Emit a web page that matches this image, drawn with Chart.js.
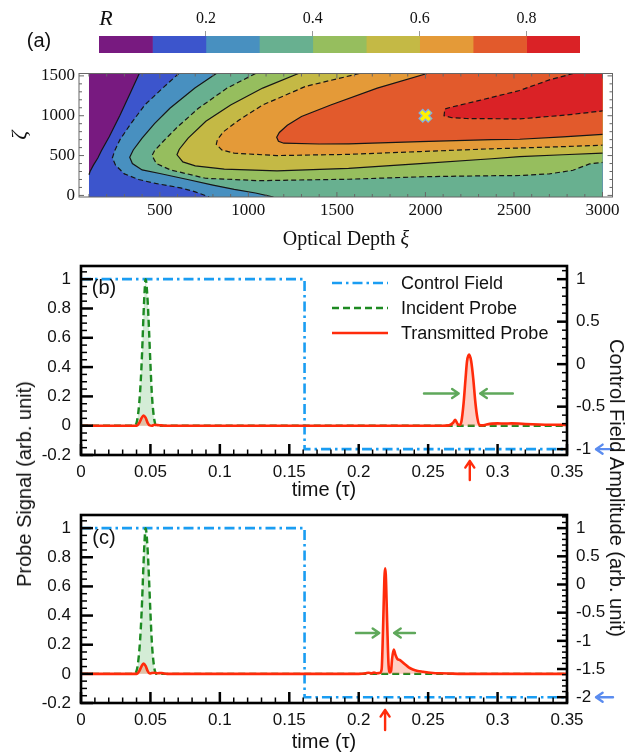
<!DOCTYPE html>
<html>
<head>
<meta charset="utf-8">
<title>Pulse transmission vs optical depth</title>
<script src="https://cdn.jsdelivr.net/npm/chart.js@4.4.1/dist/chart.umd.min.js"></script>
<style>
  html, body { margin: 0; padding: 0; background: #fff; }
  #page { position: relative; width: 626px; height: 755px; overflow: hidden; font-family: 'Liberation Sans', Arial, sans-serif; color: #111; }
  #page canvas { position: absolute; left: 0; }
  .txt { position: absolute; white-space: nowrap; line-height: 1; transform: translate(-50%, -50%); }
  .serif { font-family: 'Liberation Serif', 'Times New Roman', serif; }
</style>
</head>
<body>
<div id="page">
  <canvas id="barR" width="626" height="56" style="top:0px"></canvas>
  <canvas id="mapA" width="626" height="190" style="top:60px"></canvas>
  <canvas id="plotB" width="626" height="254" style="top:251px"></canvas>
  <canvas id="plotC" width="626" height="255" style="top:500px"></canvas>

  <div class="txt" style="left:39px; top:40px; font-size:20px;">(a)</div>
  <div class="txt serif" style="left:106px; top:18px; font-size:22px; font-style:italic;">R</div>
  <div class="txt serif" style="left:346px; top:238px; font-size:20px;">Optical Depth <i>ξ</i></div>
  <div class="txt" style="left:104px; top:287px; font-size:20px;">(b)</div>
  <div class="txt" style="left:104px; top:537px; font-size:20px;">(c)</div>
  <div class="txt" style="left:24px; top:484px; font-size:20px; transform: translate(-50%,-50%) rotate(-90deg);">Probe Signal (arb. unit)</div>
  <div class="txt" style="left:617px; top:488px; font-size:20px; transform: translate(-50%,-50%) rotate(90deg);">Control Field Amplitude (arb. unit)</div>
</div>

<script>
// ---------- panel (a): colour bar ----------
const rBandEdges = [0, 0.1, 0.2, 0.3, 0.4, 0.5, 0.6, 0.7, 0.8, 0.9];
const rBandColors = ['#781a80', '#3c55cc', '#4890c0', '#68b090', '#96be5e', '#c4b945', '#e49a38', '#e25a2c', '#da2226'];
const rBarTicks = [0.2, 0.4, 0.6, 0.8];

// ---------- panel (a): contour lines of R (xi, zeta) ----------
const xiRange = [100, 3000];
const zetaRange = [-20, 1530];
const xiTicks = [500, 1000, 1500, 2000, 2500, 3000];
const zetaTicks = [0, 500, 1000, 1500];

const xiL1 = [384, 330, 275, 215, 170, 150, 125, 106, 100];
const zetaL1 = [1530, 1270, 1005, 740, 560, 470, 380, 300, 260];
const xiL2 = [607, 516, 415, 330, 275, 245, 232, 250, 300, 380, 476, 617, 700, 779];
const zetaL2 = [1530, 1347, 1135, 880, 700, 560, 470, 380, 270, 200, 150, 95, 45, -20];
const xiL3 = [819, 698, 557, 470, 400, 350, 330, 345, 400, 500, 657, 800, 920, 1040, 1142];
const zetaL3 = [1530, 1347, 1093, 900, 720, 570, 480, 400, 320, 275, 200, 130, 76, 30, -20];
const xiL4 = [1041, 880, 718, 600, 520, 470, 456, 480, 560, 758, 1061, 1566, 2000, 2300, 2532, 2700, 2833, 2927, 3000];
const zetaL4 = [1530, 1347, 1093, 860, 680, 560, 500, 400, 320, 215, 185, 203, 235, 245, 250, 270, 316, 395, 414];
const xiL5 = [1283, 1081, 900, 760, 660, 610, 597, 630, 700, 864, 1162, 1566, 1970, 2374, 2532, 2777, 3000];
const zetaL5 = [1530, 1347, 1135, 930, 720, 580, 510, 420, 370, 330, 309, 339, 400, 460, 487, 510, 530];
const xiL6 = [1627, 1324, 1081, 950, 860, 825, 819, 850, 920, 1162, 1566, 1970, 2374, 2532, 2777, 3000];
const zetaL6 = [1530, 1369, 1135, 950, 800, 700, 640, 570, 530, 500, 515, 550, 585, 595, 612, 630];
const xiL7 = [2010, 1728, 1465, 1300, 1220, 1175, 1160, 1170, 1200, 1400, 1566, 1970, 2374, 2532, 2777, 3000];
const zetaL7 = [1530, 1347, 1135, 990, 880, 790, 730, 680, 655, 645, 648, 675, 700, 705, 735, 765];
const xiL8 = [2835, 2700, 2532, 2300, 2150, 2110, 2105, 2150, 2232, 2532, 2800, 3000];
const zetaL8 = [1530, 1450, 1317, 1190, 1110, 1085, 1000, 975, 965, 960, 1010, 1060];

const contourXi = [xiL1, xiL2, xiL3, xiL4, xiL5, xiL6, xiL7, xiL8];
const contourZeta = [zetaL1, zetaL2, zetaL3, zetaL4, zetaL5, zetaL6, zetaL7, zetaL8];
const optimumXi = [2000];
const optimumZeta = [1000];

// ---------- panels (b) and (c) ----------
const timeTicks = [0, 0.05, 0.1, 0.15, 0.2, 0.25, 0.3, 0.35];
const probeTicks = [-0.2, 0, 0.2, 0.4, 0.6, 0.8, 1];
const ctrlTicksB = [-1, -0.5, 0, 0.5, 1];
const ctrlTicksC = [-2, -1.5, -1, -0.5, 0, 0.5, 1];

const tControl = [0, 0.161, 0.161, 0.35];
const controlB = [1, 1, -1, -1];
const controlC = [1, 1, -2, -2];

const tIncident = [0, 0.038, 0.040, 0.041, 0.042, 0.043, 0.044, 0.045, 0.046, 0.0465, 0.047, 0.048, 0.049, 0.050, 0.051, 0.052, 0.053, 0.054, 0.056, 0.35];
const incidentProbe = [0, 0, 0.02, 0.07, 0.16, 0.30, 0.50, 0.75, 0.95, 1.0, 0.98, 0.85, 0.65, 0.42, 0.22, 0.10, 0.03, 0, 0, 0];

const tTransB = [0, 0.040, 0.042, 0.0435, 0.045, 0.0465, 0.048, 0.0495, 0.051, 0.053, 0.055, 0.058, 0.060, 0.26, 0.265, 0.268, 0.2695, 0.271, 0.2725, 0.274, 0.2755, 0.277, 0.278, 0.2795, 0.281, 0.2825, 0.284, 0.2855, 0.287, 0.289, 0.292, 0.296, 0.300, 0.305, 0.310, 0.315, 0.320, 0.330, 0.340, 0.350];
const transB = [0, 0, 0.02, 0.05, 0.07, 0.055, 0.02, 0.002, 0, 0.006, 0.004, 0.002, 0, 0, 0.002, 0.02, 0.04, 0.015, 0.005, 0.03, 0.15, 0.33, 0.44, 0.485, 0.44, 0.32, 0.16, 0.05, 0.005, 0.002, 0.008, 0.014, 0.016, 0.015, 0.016, 0.015, 0.012, 0.008, 0.006, 0.005];

const tTransC = [0, 0.040, 0.042, 0.0435, 0.045, 0.0465, 0.048, 0.0495, 0.051, 0.053, 0.055, 0.058, 0.060, 0.062, 0.20, 0.205, 0.207, 0.209, 0.211, 0.213, 0.215, 0.2165, 0.2175, 0.2185, 0.219, 0.2195, 0.2205, 0.2215, 0.2225, 0.2233, 0.224, 0.2252, 0.2265, 0.228, 0.2295, 0.231, 0.2335, 0.236, 0.239, 0.2425, 0.2465, 0.250, 0.2535, 0.258, 0.265, 0.275, 0.35];
const transC = [0, 0, 0.02, 0.05, 0.07, 0.055, 0.02, 0.002, 0.006, 0.008, 0.004, 0.006, 0.002, 0, 0, 0.004, 0.008, 0.003, 0.009, 0.004, 0.006, 0.03, 0.30, 0.66, 0.725, 0.68, 0.35, 0.06, 0.01, 0.02, 0.10, 0.166, 0.13, 0.10, 0.095, 0.085, 0.064, 0.045, 0.03, 0.02, 0.014, 0.009, 0.006, 0.004, 0.002, 0, 0];

// ---------- helpers ----------
const SERIF = "'Liberation Serif', 'Times New Roman', serif";
Chart.defaults.font.family = "'Liberation Sans', Arial, sans-serif";
Chart.defaults.color = '#111';
Chart.defaults.animation = false;
Chart.defaults.responsive = false;
Chart.defaults.events = [];
Chart.defaults.plugins.legend.display = false;
Chart.defaults.plugins.tooltip.enabled = false;

function toPoints(xs, ys) {
    return xs.map((x, i) => ({ x: x, y: ys[i] }));
}

function fixBox(w, h) {
    return function (s) {
        if (w !== null) s.width = w;
        if (h !== null) s.height = h;
        s.paddingLeft = 0; s.paddingRight = 0; s.paddingTop = 0; s.paddingBottom = 0;
    };
}

function useTicks(values) {
    return function (s) { s.ticks = values.map(v => ({ value: v })); };
}

function minorTicks(lo, hi, step, majors) {
    const out = [];
    const n = Math.round((hi - lo) / step);
    for (let k = 0; k <= n; k++) {
        const v = Math.round((lo + k * step) * 1e6) / 1e6;
        if (!majors.some(m => Math.abs(m - v) < step / 10)) out.push(v);
    }
    return out;
}

// frame round the plot area with inward tick marks
function framePlugin(cfg) {
    return {
        id: 'frameTicks',
        afterDatasetsDraw(chart) {
            const ctx = chart.ctx;
            const a = chart.chartArea;
            ctx.save();
            ctx.strokeStyle = cfg.color;
            cfg.marks.forEach(m => {
                const s = chart.scales[m.scale];
                [[m.major, m.majorLen, m.majorWidth], [m.minor, m.minorLen, m.minorWidth]].forEach(([vals, len, w]) => {
                    ctx.lineWidth = w;
                    vals.forEach(v => {
                        const p = s.getPixelForValue(v);
                        m.sides.forEach(side => {
                            ctx.beginPath();
                            if (side === 'bottom') { ctx.moveTo(p, a.bottom); ctx.lineTo(p, a.bottom - len); }
                            if (side === 'top') { ctx.moveTo(p, a.top); ctx.lineTo(p, a.top + len); }
                            if (side === 'left') { ctx.moveTo(a.left, p); ctx.lineTo(a.left + len, p); }
                            if (side === 'right') { ctx.moveTo(a.right, p); ctx.lineTo(a.right - len, p); }
                            ctx.stroke();
                        });
                    });
                });
            });
            ctx.lineWidth = cfg.frameWidth;
            ctx.strokeRect(a.left, a.top, a.right - a.left, a.bottom - a.top);
            ctx.restore();
        }
    };
}

function arrowsPlugin(items) {
    return {
        id: 'arrows',
        afterDraw(chart) {
            const ctx = chart.ctx;
            const a = chart.chartArea;
            const pos = (spec, base, k) => spec[0] ? chart.scales[spec[0]].getPixelForValue(spec[k]) : base + spec[k];
            ctx.save();
            ctx.lineWidth = 2.4;
            ctx.lineCap = 'round';
            ctx.lineJoin = 'round';
            items.forEach(it => {
                const x1 = pos(it.x, a.right, 1), x2 = pos(it.x, a.right, 2);
                const y1 = pos(it.y, a.bottom, 1), y2 = pos(it.y, a.bottom, 2);
                const ang = Math.atan2(y2 - y1, x2 - x1);
                const h = 8;
                ctx.strokeStyle = it.color;
                ctx.beginPath();
                ctx.moveTo(x1, y1);
                ctx.lineTo(x2, y2);
                ctx.moveTo(x2 - h * Math.cos(ang - 0.6), y2 - h * Math.sin(ang - 0.6));
                ctx.lineTo(x2, y2);
                ctx.lineTo(x2 - h * Math.cos(ang + 0.6), y2 - h * Math.sin(ang + 0.6));
                ctx.stroke();
            });
            ctx.restore();
        }
    };
}

function lineLegendPlugin(order) {
    return {
        id: 'lineLegend',
        afterDatasetsDraw(chart) {
            const ctx = chart.ctx;
            const a = chart.chartArea;
            ctx.save();
            order.forEach((di, row) => {
                const ds = chart.data.datasets[di];
                const y = a.top + 17 + row * 25;
                ctx.strokeStyle = ds.borderColor;
                ctx.lineWidth = ds.borderWidth;
                ctx.setLineDash(ds.borderDash || []);
                ctx.beginPath();
                ctx.moveTo(a.left + 251, y);
                ctx.lineTo(a.left + 307, y);
                ctx.stroke();
                ctx.setLineDash([]);
                ctx.fillStyle = '#111';
                ctx.font = "18px 'Liberation Sans', Arial, sans-serif";
                ctx.textAlign = 'left';
                ctx.textBaseline = 'middle';
                ctx.fillText(ds.label, a.left + 320, y + 1);
            });
            ctx.restore();
        }
    };
}

// ---------- colour bar ----------
new Chart(document.getElementById('barR'), {
    type: 'bar',
    data: {
        labels: ['R'],
        datasets: rBandColors.map((c, i) => ({
            data: [[rBandEdges[i], rBandEdges[i + 1]]],
            backgroundColor: c,
            borderWidth: 0,
            barPercentage: 1,
            categoryPercentage: 1
        }))
    },
    options: {
        indexAxis: 'y',
        layout: { padding: { left: 99, right: 46, top: 0, bottom: 3 } },
        scales: {
            x: {
                type: 'linear', position: 'top', min: 0, max: 0.9,
                afterFit: fixBox(null, 36),
                afterBuildTicks: useTicks(rBarTicks),
                grid: { drawOnChartArea: false, drawTicks: true, tickLength: 5, color: '#999' },
                border: { display: false },
                ticks: { font: { family: SERIF, size: 16 }, padding: 3, maxRotation: 0, callback: v => String(v) }
            },
            y: { display: false, stacked: true }
        }
    }
});

// ---------- contour map ----------
function regionAbove(xs, zs) {
    const pts = toPoints(xs, zs);
    const end = pts[pts.length - 1];
    if (end.x <= xiRange[0]) pts.push({ x: xiRange[0], y: zetaRange[0] });
    if (end.x < xiRange[1]) pts.push({ x: xiRange[1], y: zetaRange[0] });
    pts.push({ x: xiRange[1], y: zetaRange[1] });
    return pts;
}

const mapDatasets = [];
mapDatasets.push({
    data: [
        { x: xiRange[0], y: zetaRange[0] }, { x: xiRange[1], y: zetaRange[0] },
        { x: xiRange[1], y: zetaRange[1] }, { x: xiRange[0], y: zetaRange[1] }
    ],
    showLine: true, fill: 'shape', indexAxis: 'y', backgroundColor: rBandColors[0],
    borderWidth: 0, pointRadius: 0, order: 40
});
contourXi.forEach((xs, k) => {
    mapDatasets.push({
        data: regionAbove(xs, contourZeta[k]),
        showLine: true, fill: 'shape', indexAxis: 'y', backgroundColor: rBandColors[k + 1],
        borderWidth: 0, pointRadius: 0, order: 39 - k
    });
});
contourXi.forEach((xs, k) => {
    mapDatasets.push({
        data: toPoints(xs, contourZeta[k]),
        showLine: true, fill: false, borderColor: '#161616', borderWidth: 1.2,
        borderDash: k % 2 === 1 ? [5, 3] : [], pointRadius: 0, order: 10
    });
});
mapDatasets.push({
    data: toPoints(optimumXi, optimumZeta), pointStyle: 'crossRot', pointRadius: 7,
    pointBorderWidth: 6.5, pointBorderColor: 'rgba(120, 185, 240, 0.9)', showLine: false, order: 2
});
mapDatasets.push({
    data: toPoints(optimumXi, optimumZeta), pointStyle: 'crossRot', pointRadius: 6,
    pointBorderWidth: 3.5, pointBorderColor: '#fff200', showLine: false, order: 1
});

new Chart(document.getElementById('mapA'), {
    type: 'scatter',
    data: { datasets: mapDatasets },
    options: {
        layout: { padding: { left: 0, right: 13, top: 10, bottom: 0 } },
        scales: {
            x: {
                min: 43.6, max: 3056.4,
                afterFit: fixBox(null, 53),
                afterBuildTicks: useTicks(xiTicks),
                grid: { display: false, drawTicks: false },
                border: { display: false },
                ticks: { font: { family: SERIF, size: 17 }, padding: 3, maxRotation: 0, autoSkip: false, callback: v => String(v) }
            },
            y: {
                min: zetaRange[0], max: zetaRange[1],
                afterFit: fixBox(79, null),
                afterBuildTicks: useTicks(zetaTicks),
                grid: { display: false, drawTicks: false },
                border: { display: false },
                ticks: { font: { family: SERIF, size: 17 }, padding: 4, autoSkip: false, callback: v => String(v) },
                title: { display: true, text: 'ζ', font: { family: SERIF, size: 22, style: 'italic' }, padding: { top: 7, bottom: 0 } }
            }
        }
    },
    plugins: [framePlugin({
        color: '#666', frameWidth: 1,
        marks: [
            { scale: 'x', sides: ['bottom', 'top'], major: xiTicks, minor: minorTicks(100, 3000, 100, xiTicks), majorLen: 5, minorLen: 3, majorWidth: 1, minorWidth: 1 },
            { scale: 'y', sides: ['left', 'right'], major: zetaTicks, minor: minorTicks(100, 1500, 100, zetaTicks), majorLen: 5, minorLen: 3, majorWidth: 1, minorWidth: 1 }
        ]
    })]
});

// ---------- probe panels ----------
const GREEN_ARROW = '#5fa85b';
const RED = '#ff2b0b';
const BLUE_ARROW = '#5b8cef';

function buildProbeChart(canvasId, cfg) {
    const datasets = [
        {
            label: 'Transmitted Probe', data: toPoints(cfg.tTrans, cfg.trans), yAxisID: 'y',
            borderColor: RED, borderWidth: 2.6, backgroundColor: 'rgba(255, 95, 60, 0.3)', fill: 'origin',
            showLine: true, pointRadius: 0, cubicInterpolationMode: 'monotone'
        },
        {
            label: 'Incident Probe', data: toPoints(tIncident, incidentProbe), yAxisID: 'y',
            borderColor: '#1d8a22', borderWidth: 2.4, borderDash: [7, 4], backgroundColor: 'rgba(60, 170, 70, 0.22)', fill: 'origin',
            showLine: true, pointRadius: 0, cubicInterpolationMode: 'monotone'
        },
        {
            label: 'Control Field', data: toPoints(tControl, cfg.control), yAxisID: 'y1',
            borderColor: '#1a9df2', borderWidth: 2.6, borderDash: [10, 4, 2.5, 4], fill: false,
            showLine: true, pointRadius: 0
        }
    ];
    const plugins = [
        framePlugin({
            color: '#000', frameWidth: 2.6,
            marks: [
                { scale: 'x', sides: ['bottom'], major: timeTicks, minor: minorTicks(0.01, 0.34, 0.01, timeTicks), majorLen: 11, minorLen: 5.5, majorWidth: 2.5, minorWidth: 1.5 },
                { scale: 'y', sides: ['left'], major: probeTicks, minor: minorTicks(-0.15, 1.05, 0.05, probeTicks), majorLen: 12, minorLen: 6, majorWidth: 2.5, minorWidth: 1.5 },
                { scale: 'y1', sides: ['right'], major: cfg.ctrlTicks, minor: minorTicks(cfg.ctrlMinor[0], cfg.ctrlMinor[1], 0.1, cfg.ctrlTicks), majorLen: 10, minorLen: 5, majorWidth: 2.5, minorWidth: 1.5 }
            ]
        }),
        arrowsPlugin(cfg.arrows)
    ];
    if (cfg.legend) plugins.push(lineLegendPlugin([2, 1, 0]));

    new Chart(document.getElementById(canvasId), {
        type: 'scatter',
        data: { datasets: datasets },
        options: {
            layout: { padding: { left: 0, right: 0, top: 15, bottom: 0 } },
            scales: {
                x: {
                    min: 0, max: 0.35,
                    afterFit: fixBox(null, cfg.xHeight),
                    afterBuildTicks: useTicks(timeTicks),
                    grid: { display: false, drawTicks: false },
                    border: { display: false },
                    ticks: { font: { size: 17 }, padding: 7, maxRotation: 0, autoSkip: false, callback: v => String(v) },
                    title: { display: true, text: 'time (τ)', font: { size: 20 }, padding: { top: 0, bottom: cfg.titlePad } }
                },
                y: {
                    min: -0.2, max: 1.09,
                    afterFit: fixBox(81, null),
                    afterBuildTicks: useTicks(probeTicks),
                    grid: { display: false, drawTicks: false },
                    border: { display: false },
                    ticks: { font: { size: 17 }, padding: 10, autoSkip: false, callback: v => String(v) }
                },
                y1: {
                    type: 'linear', position: 'right',
                    min: cfg.ctrlRange[0], max: cfg.ctrlRange[1],
                    afterFit: fixBox(59, null),
                    afterBuildTicks: useTicks(cfg.ctrlTicks),
                    grid: { display: false, drawTicks: false },
                    border: { display: false },
                    ticks: { font: { size: 17 }, padding: 9, autoSkip: false, callback: v => String(v) }
                }
            }
        },
        plugins: plugins
    });
}

buildProbeChart('plotB', {
    tTrans: tTransB, trans: transB, control: controlB,
    ctrlRange: [-1.069, 1.155], ctrlTicks: ctrlTicksB, ctrlMinor: [-1, 1.1],
    xHeight: 50, titlePad: 3, legend: true,
    arrows: [
        { color: GREEN_ARROW, x: ['x', 0.247, 0.272], y: ['y', 0.22, 0.22] },
        { color: GREEN_ARROW, x: ['x', 0.311, 0.2875], y: ['y', 0.22, 0.22] },
        { color: RED, x: ['x', 0.28, 0.28], y: [null, 25, 6] },
        { color: BLUE_ARROW, x: [null, 46, 29], y: ['y1', -1, -1] }
    ]
});

buildProbeChart('plotC', {
    tTrans: tTransC, trans: transC, control: controlC,
    ctrlRange: [-2.103, 1.233], ctrlTicks: ctrlTicksC, ctrlMinor: [-2.1, 1.2],
    xHeight: 52, titlePad: 1, legend: false,
    arrows: [
        { color: GREEN_ARROW, x: ['x', 0.198, 0.2148], y: ['y', 0.28, 0.28] },
        { color: GREEN_ARROW, x: ['x', 0.2405, 0.2255], y: ['y', 0.28, 0.28] },
        { color: RED, x: ['x', 0.219, 0.219], y: [null, 27, 7] },
        { color: BLUE_ARROW, x: [null, 46, 29], y: ['y1', -2, -2] }
    ]
});
</script>
</body>
</html>
